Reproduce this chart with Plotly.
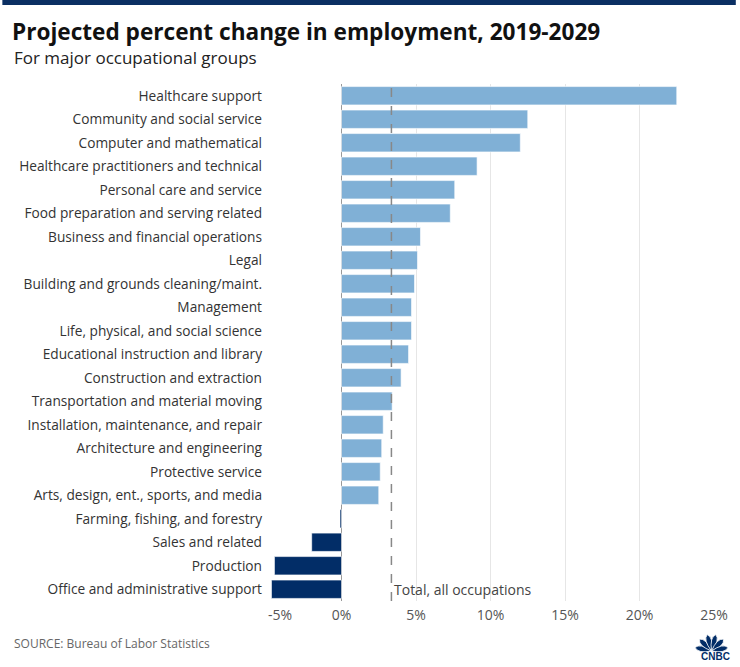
import math
import plotly.graph_objects as go

categories = [
    "Healthcare support", "Community and social service", "Computer and mathematical",
    "Healthcare practitioners and technical", "Personal care and service",
    "Food preparation and serving related", "Business and financial operations", "Legal",
    "Building and grounds cleaning/maint.", "Management", "Life, physical, and social science",
    "Educational instruction and library", "Construction and extraction",
    "Transportation and material moving", "Installation, maintenance, and repair",
    "Architecture and engineering", "Protective service", "Arts, design, ent., sports, and media",
    "Farming, fishing, and forestry", "Sales and related", "Production",
    "Office and administrative support",
]
values = [22.5, 12.5, 12.0, 9.1, 7.6, 7.3, 5.3, 5.1, 4.9, 4.7, 4.7, 4.5, 4.0, 3.4,
          2.8, 2.7, 2.6, 2.5, -0.1, -2.0, -4.5, -4.7]
total_all = 3.35
x_ticks = [-5, 0, 5, 10, 15, 20, 25]
x_tick_labels = ["-5%", "0%", "5%", "10%", "15%", "20%", "25%"]

LIGHT = "#80b0d6"
DARK = "#022d67"
colors = [LIGHT if v >= 0 else DARK for v in values]

FONT = "Open Sans"
L, R, T, B = 267, 22, 84, 66
W, H = 740, 667
PW, PH = W - L - R, H - T - B


def px_x(x):
    return (x - L) / PW


def px_y(y):
    return 1 + (T - y) / PH


fig = go.Figure(go.Bar(
    y=categories, x=values, orientation="h",
    marker=dict(color=colors, line=dict(color="rgba(255,255,255,0.6)", width=1)),
    width=0.78,
))

fig.add_shape(type="line", x0=total_all, x1=total_all, y0=0, y1=1, yref="paper",
              line=dict(color="#888888", width=1.5, dash="dash"), layer="above")
fig.add_annotation(x=total_all, y=categories[-1], text="Total, all occupations",
                   xanchor="left", yanchor="middle", showarrow=False, xshift=1,
                   font=dict(family=FONT, size=14, color="#444444"))

# first tick label is nudged inward as in the reference
fig.add_annotation(x=x_ticks[0], xref="x", yref="paper", y=px_y(614), text=x_tick_labels[0],
                   xanchor="center", yanchor="middle", showarrow=False, xshift=13,
                   font=dict(family=FONT, size=14, color="#555555"))

# title / subtitle
fig.add_annotation(xref="paper", yref="paper", x=px_x(8), y=px_y(31), xanchor="left", yanchor="middle",
                   text="<b>Projected percent change in employment, 2019-2029</b>", showarrow=False,
                   font=dict(family=FONT, size=22.6, color="#111111"))
fig.add_annotation(xref="paper", yref="paper", x=px_x(10), y=px_y(57), xanchor="left", yanchor="middle",
                   text="For major occupational groups", showarrow=False,
                   font=dict(family=FONT, size=17, color="#222222"))

fig.add_annotation(xref="paper", yref="paper", x=px_x(10), y=px_y(643), xanchor="left", yanchor="middle",
                   text="SOURCE: Bureau of Labor Statistics", showarrow=False,
                   font=dict(family=FONT, size=12, color="#666666"))
fig.add_annotation(xref="paper", yref="paper", x=px_x(736), y=px_y(656), xanchor="right", yanchor="middle",
                   text="<b>CNBC</b>", showarrow=False,
                   font=dict(family="Liberation Sans", size=10, color=DARK))

# simple peacock mark
bx, by = 715.5, 651.0
for ang in [168, 136, 105, 75, 44, 12]:
    a = math.radians(ang)
    ln, wd = 17.0, 5.5
    tx, ty = bx + ln * math.cos(a), by - ln * math.sin(a)
    nx, ny = -math.sin(a), -math.cos(a)
    c1 = (bx + 0.75 * ln * math.cos(a) + wd * nx, by - 0.75 * ln * math.sin(a) + wd * ny)
    c2 = (bx + 0.75 * ln * math.cos(a) - wd * nx, by - 0.75 * ln * math.sin(a) - wd * ny)
    path = (f"M {px_x(bx)},{px_y(by)} Q {px_x(c1[0])},{px_y(c1[1])} {px_x(tx)},{px_y(ty)} "
            f"Q {px_x(c2[0])},{px_y(c2[1])} {px_x(bx)},{px_y(by)} Z")
    fig.add_shape(type="path", xref="paper", yref="paper", path=path,
                  fillcolor=DARK, line=dict(color="white", width=0.8), layer="above")

# top band
fig.add_shape(type="rect", xref="paper", yref="paper", x0=px_x(0), x1=px_x(W),
              y0=px_y(5), y1=px_y(0),
              fillcolor="#0b2f63", line=dict(width=0), layer="above")

fig.update_layout(
    width=W, height=H,
    margin=dict(l=L, r=R, t=T, b=B),
    paper_bgcolor="white", plot_bgcolor="white",
    showlegend=False,
    bargap=0.22,
    xaxis=dict(range=[-5, 25], tickvals=x_ticks, ticktext=[""] + x_tick_labels[1:],
               showgrid=True, gridcolor="#e6e6e6", gridwidth=1,
               zeroline=True, zerolinecolor="#999999", zerolinewidth=1,
               tickfont=dict(family=FONT, size=14, color="#555555"),
               showline=False, ticks="", ticklabelstandoff=4),
    yaxis=dict(autorange="reversed", tickfont=dict(family=FONT, size=13.7, color="#333333"),
               showgrid=False, ticks="", ticklabelstandoff=4),
)

fig.write_html("out.html", post_script="document.body.style.margin='0';",
               config={"displayModeBar": False})
